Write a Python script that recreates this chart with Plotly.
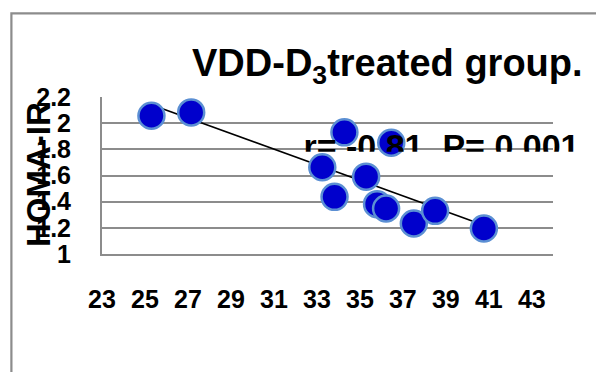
import numpy as np
import plotly.graph_objects as go

# Data
vit_d = [25.3, 27.15, 34.28, 36.46, 33.25, 35.29, 33.82, 35.80, 36.22, 37.51, 38.50, 40.77]
homa_ir = [2.057, 2.082, 1.930, 1.850, 1.663, 1.591, 1.437, 1.381, 1.348, 1.233, 1.330, 1.195]
x_ticks = [23, 25, 27, 29, 31, 33, 35, 37, 39, 41, 43]
y_ticks = [1, 1.2, 1.4, 1.6, 1.8, 2, 2.2]
y_tick_text = ["1", "1.2", "1.4", "1.6", "1.8", "2", "2.2"]
title_text = "VDD-D<sub>3</sub>treated group."
stat_text = "r= -0.81, P= 0.001"
y_title = "HOMA-IR"

W, H = 596, 372
ML, MR, MT, MB = 102, 6, 97, 118
PW = W - ML - MR
PH = H - MT - MB
PLOT_RIGHT = 553.3


def px_x(p):
    return (p - ML) / PW


def px_y(p):
    return (H - MB - p) / PH


FONT = "Liberation Sans, Arial, sans-serif"
GRID = "#8c8c8c"

# linear trend line
slope, intercept = np.polyfit(vit_d, homa_ir, 1)
tx = np.array([min(vit_d), max(vit_d)])
ty = slope * tx + intercept

fig = go.Figure()
fig.add_trace(go.Scatter(x=tx, y=ty, mode="lines",
                         line=dict(color="black", width=1.6),
                         showlegend=False, hoverinfo="skip"))
fig.add_trace(go.Scatter(x=vit_d, y=homa_ir, mode="markers",
                         marker=dict(size=26, color="#0000CC",
                                     line=dict(color="#5B8FD3", width=2.5)),
                         showlegend=False))

# clipped statistics text in a separate overlaid subplot
clip_top, clip_bot = 118.0, 151.7
fig.add_trace(go.Scatter(x=[(306 + 577) / 2 - ML], y=[-149.5], mode="text",
                         text=[stat_text], textposition="middle center",
                         textfont=dict(family=FONT, size=34, color="black", weight="bold"),
                         cliponaxis=True, showlegend=False, hoverinfo="skip",
                         xaxis="x2", yaxis="y2"))

fig.update_layout(
    width=W, height=H,
    margin=dict(l=ML, r=MR, t=MT, b=MB, pad=0),
    paper_bgcolor="white", plot_bgcolor="rgba(0,0,0,0)",
    font=dict(family=FONT, color="black"),
    xaxis=dict(domain=[0, px_x(PLOT_RIGHT)], range=[23, 44],
               tickmode="array", tickvals=x_ticks, ticktext=[str(v) for v in x_ticks],
               showgrid=False, zeroline=False,
               showline=True, linecolor=GRID, linewidth=2,
               ticks="", ticklabelstandoff=22,
               tickfont=dict(family=FONT, size=25, color="black", weight="bold")),
    yaxis=dict(range=[1, 2.2], tickmode="array", tickvals=y_ticks,
               ticktext=y_tick_text,
               showgrid=True, gridcolor=GRID, gridwidth=2, zeroline=False,
               showline=True, linecolor=GRID, linewidth=2,
               ticks="", ticklabelstandoff=24,
               tickfont=dict(family=FONT, size=25, color="black", weight="bold")),
    xaxis2=dict(domain=[0, 1], range=[0, PW], visible=False, anchor="y2", fixedrange=True),
    yaxis2=dict(domain=[px_y(clip_bot), px_y(clip_top)], range=[-clip_bot, -clip_top],
                visible=False, anchor="x2", fixedrange=True),
    annotations=[
        dict(text=title_text, xref="paper", yref="paper",
             x=px_x(190), y=px_y(40), xanchor="left", yanchor="top",
             showarrow=False,
             font=dict(family=FONT, size=38, color="black", weight="bold")),
        dict(text=y_title, xref="paper", yref="paper",
             x=px_x(38), y=px_y(175), xanchor="center", yanchor="middle",
             textangle=-90, showarrow=False,
             font=dict(family=FONT, size=33, color="black", weight="bold")),
    ],
    shapes=[
        dict(type="rect", xref="paper", yref="paper",
             x0=px_x(11.4), x1=px_x(610), y0=px_y(13.3), y1=px_y(390),
             line=dict(color=GRID, width=2.2), fillcolor="rgba(0,0,0,0)", layer="below"),
    ],
)

fig.write_html("out.html", config={"displayModeBar": False},
               post_script="document.body.style.margin='0';")
